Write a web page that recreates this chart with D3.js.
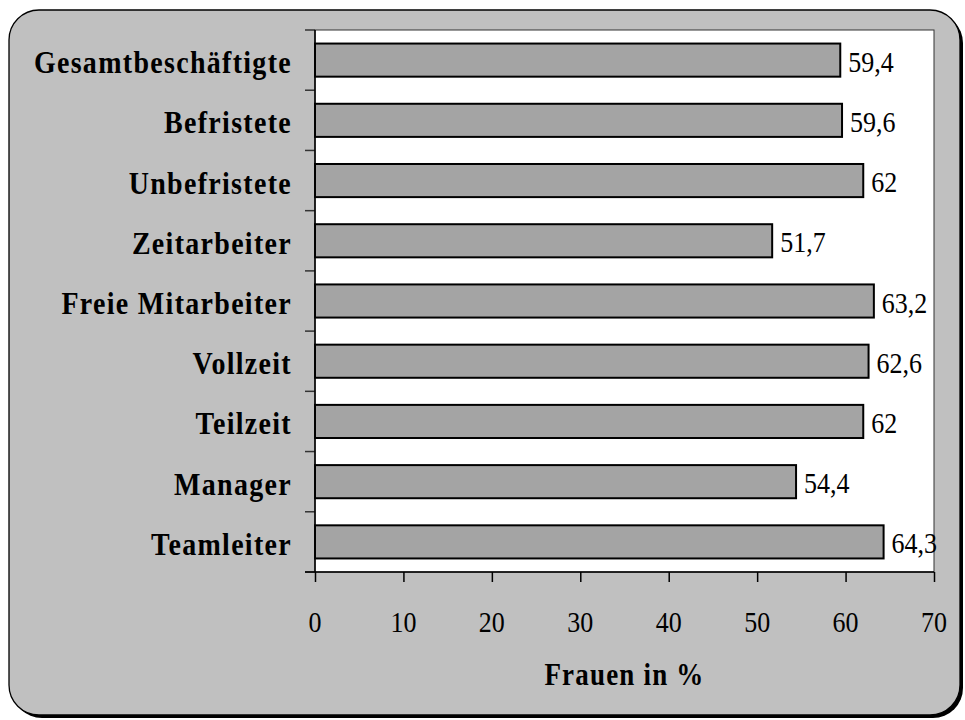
<!DOCTYPE html>
<html>
<head>
<meta charset="utf-8">
<script src="https://cdn.jsdelivr.net/npm/d3@7"></script>
<style>
  body { margin: 0; background: #fff; }
  svg { display: block; }
</style>
</head>
<body>
<div id="chart"></div>
<script>
// data
const categories = ['Gesamtbeschäftigte', 'Befristete', 'Unbefristete', 'Zeitarbeiter',
  'Freie Mitarbeiter', 'Vollzeit', 'Teilzeit', 'Manager', 'Teamleiter'];
const values = [59.4, 59.6, 62, 51.7, 63.2, 62.6, 62, 54.4, 64.3];
const labels = ['59,4', '59,6', '62', '51,7', '63,2', '62,6', '62', '54,4', '64,3'];
const xTicks = [0, 10, 20, 30, 40, 50, 60, 70];
const xTitle = 'Frauen in %';

const width = 965;
const height = 720;
const plot = {left: 315, right: 934, top: 30, bottom: 572};
const sy = 1.15; // glyphs in the original are a bit taller than normal

const svg = d3.select('#chart').append('svg')
  .attr('width', width)
  .attr('height', height);

// frame with shadow
svg.append('rect')
  .attr('x', 12).attr('y', 13)
  .attr('width', 951).attr('height', 705)
  .attr('rx', 30).attr('ry', 30)
  .style('fill', '#000');
svg.append('rect')
  .attr('x', 9).attr('y', 10)
  .attr('width', 951).attr('height', 705)
  .attr('rx', 30).attr('ry', 30)
  .style('fill', '#c0c0c0')
  .style('stroke', '#000')
  .style('stroke-width', 1.3);

// plot area
svg.append('rect')
  .attr('x', plot.left).attr('y', plot.top)
  .attr('width', plot.right - plot.left).attr('height', plot.bottom - plot.top)
  .style('fill', '#fff')
  .style('stroke', '#333')
  .style('stroke-width', 1);

const x = d3.scaleLinear().domain([0, 70]).range([plot.left, plot.right]);
const y = d3.scaleBand().domain(categories)
  .range([plot.top, plot.bottom])
  .paddingInner(0.45).paddingOuter(0.225);
const step = y.step();

function stretched(g, tx, ty) {
  return g.append('text')
    .attr('transform', `translate(${tx},${ty}) scale(1,${sy})`)
    .style('font-family', '"Liberation Serif", "Times New Roman", serif');
}

// bars
svg.selectAll('rect.bar')
  .data(values)
  .enter()
  .append('rect')
  .attr('class', 'bar')
  .attr('x', x(0))
  .attr('y', (d, i) => y(categories[i]))
  .attr('width', d => x(d) - x(0))
  .attr('height', y.bandwidth())
  .style('fill', '#a4a4a4')
  .style('stroke', '#000')
  .style('stroke-width', 2);

// value labels
values.forEach((d, i) => {
  stretched(svg, x(d) + 8, y(categories[i]) + y.bandwidth() / 2 + 11.5)
    .style('font-size', '26px')
    .style('fill', '#000')
    .text(labels[i]);
});

// y axis: ticks at category boundaries
const bounds = categories.map(c => y(c) - step * y.paddingInner() / 2)
  .concat([plot.bottom]);
svg.append('g').selectAll('line')
  .data(bounds)
  .enter()
  .append('line')
  .attr('x1', plot.left - 10).attr('x2', plot.left)
  .attr('y1', d => d).attr('y2', d => d)
  .style('stroke', '#333')
  .style('stroke-width', 1.5);
svg.append('line')
  .attr('x1', plot.left).attr('x2', plot.left)
  .attr('y1', plot.top).attr('y2', plot.bottom)
  .style('stroke', '#000')
  .style('stroke-width', 1.5);

// category labels
categories.forEach(c => {
  stretched(svg, 292, y(c) + y.bandwidth() / 2 + 13)
    .attr('text-anchor', 'end')
    .style('font-size', '28px')
    .style('font-weight', 'bold')
    .style('letter-spacing', '1.3px')
    .text(c);
});

// x axis
const xAxis = d3.axisBottom(x).tickValues(xTicks).tickSize(10).tickFormat('');
const gx = svg.append('g')
  .attr('transform', `translate(0,${plot.bottom})`)
  .call(xAxis);
gx.select('.domain').remove();
gx.selectAll('.tick line').style('stroke', '#000').style('stroke-width', 1.5);
svg.append('line')
  .attr('x1', plot.left - 10).attr('x2', plot.right)
  .attr('y1', plot.bottom).attr('y2', plot.bottom)
  .style('stroke', '#000')
  .style('stroke-width', 1.5);

xTicks.forEach(t => {
  stretched(svg, x(t), 632)
    .attr('text-anchor', 'middle')
    .style('font-size', '26px')
    .text(t);
});

stretched(svg, x(35), 685)
  .attr('text-anchor', 'middle')
  .style('font-size', '27px')
  .style('font-weight', 'bold')
  .style('letter-spacing', '1.2px')
  .text(xTitle);
</script>
</body>
</html>
